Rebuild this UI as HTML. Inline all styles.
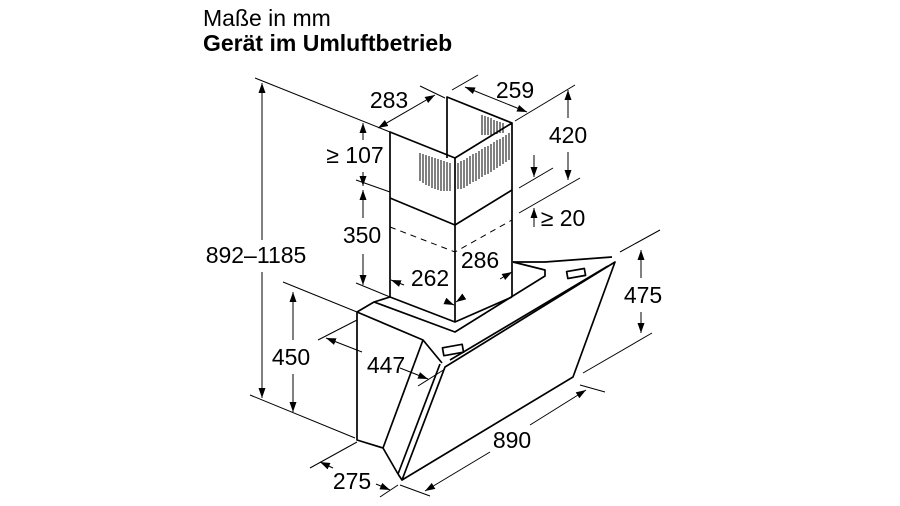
<!DOCTYPE html>
<html><head><meta charset="utf-8"><style>
html,body{margin:0;padding:0;background:#fff;}
svg{display:block;}
text{font-family:"Liberation Sans",Arial,sans-serif;fill:#000;}
</style></head><body>
<svg width="900" height="506" viewBox="0 0 900 506" xmlns="http://www.w3.org/2000/svg">
<defs>
<marker id="a" viewBox="0 0 10 10" refX="10" refY="5" markerWidth="10" markerHeight="10" orient="auto-start-reverse" markerUnits="userSpaceOnUse"><path d="M0,1.5 L10,5 L0,8.5z" fill="#000"/></marker>
</defs>
<text x="203" y="26" font-size="23">Maße in mm</text>
<text x="203" y="51" font-size="23" font-weight="bold">Gerät im Umluftbetrieb</text>

<g stroke="#000" fill="none" stroke-width="1.7" stroke-linejoin="round">
<polyline points="390,198 390,132 455,158 512,123 512,190"/>
<line x1="455" y1="158" x2="455" y2="322"/>
<polyline points="447,158 447,97 512,123"/>
<polyline points="390,198 455,225 512,190"/>
<line x1="390" y1="198" x2="390" y2="297"/>
<line x1="512" y1="190" x2="512" y2="297"/>
<polyline points="390,297 455,322 512,297" />
<polyline points="390,227 455,252 512,220" stroke-dasharray="6,5" stroke-width="1"/>
<polyline points="357,312 374,302 390,297"/>
<polyline points="374,302 455,332 545,276 545,270 513,262"/>
<polyline points="513,262 545,262 612,257"/>
<polyline points="357,312 357,440 383,448 398,474"/>
<polyline points="357,312 423,340 442,363"/>
<line x1="383" y1="448" x2="423" y2="340"/>
<polygon points="402,480 445,367 615,262 573,377"/>
<line x1="398" y1="474" x2="440" y2="364"/>
<line x1="398" y1="474" x2="402" y2="480"/>
<line x1="450" y1="360" x2="608" y2="266"/>
<rect x="443" y="346" width="20" height="8" transform="rotate(-10 453 350)"/>
<rect x="567" y="270" width="18" height="7" transform="rotate(-10 576 273)"/>
</g>
<g stroke="#000" stroke-width="1">
<path d="M420,153v28 M423,154v29 M426,155v30 M429,156v30 M432,157v31 M435,158v31 M438,159v31 M441,160v31 M444,161v30 M447,162v29 M450,163v28"/>
<path d="M458,163v26 M461,161v28 M464,160v28 M467,158v28 M470,156v28 M473,154v28 M476,153v28 M479,151v28 M482,149v28 M485,147v28 M488,146v28 M491,144v28 M494,142v28 M497,140v28 M500,139v27 M503,137v27 M506,135v27 M509,133v27"/>
<path d="M482,115v20 M485,116v19 M488,117v18 M491,118v17 M494,120v15 M497,121v13 M500,122v11 M503,123v10"/>
</g>

<g stroke="#000" stroke-width="1" fill="none">
<line x1="255" y1="78" x2="390" y2="132"/>
<line x1="250" y1="395" x2="355" y2="438"/>
<line x1="262" y1="83" x2="262" y2="240" marker-start="url(#a)"/>
<line x1="262" y1="272" x2="262" y2="398" marker-end="url(#a)"/>
<line x1="283" y1="282" x2="357" y2="312"/>
<line x1="293" y1="292" x2="293" y2="340" marker-start="url(#a)"/>
<line x1="293" y1="374" x2="293" y2="412" marker-end="url(#a)"/>
<line x1="378" y1="128" x2="435" y2="95" marker-start="url(#a)" marker-end="url(#a)"/>
<line x1="420" y1="86" x2="445" y2="98"/>
<line x1="452" y1="90" x2="478" y2="75"/>
<line x1="465" y1="87" x2="527" y2="112" marker-start="url(#a)" marker-end="url(#a)"/>
<line x1="515" y1="121" x2="575" y2="85"/>
<line x1="568" y1="90" x2="568" y2="118" marker-start="url(#a)"/>
<line x1="568" y1="152" x2="568" y2="180" marker-end="url(#a)"/>
<line x1="519" y1="188" x2="553" y2="168"/>
<line x1="519" y1="213" x2="580" y2="178"/>
<line x1="534" y1="155" x2="534" y2="177" marker-end="url(#a)"/>
<line x1="534" y1="227" x2="534" y2="208" marker-end="url(#a)"/>
<line x1="356" y1="180" x2="390" y2="192"/>
<line x1="356" y1="283" x2="390" y2="297"/>
<line x1="363" y1="123" x2="363" y2="140" marker-start="url(#a)"/>
<line x1="363" y1="172" x2="363" y2="186" marker-end="url(#a)"/>
<line x1="363" y1="190" x2="363" y2="218" marker-start="url(#a)"/>
<line x1="363" y1="254" x2="363" y2="285" marker-end="url(#a)"/>
<line x1="391" y1="280" x2="404" y2="285" marker-start="url(#a)"/>
<line x1="445" y1="301" x2="454" y2="305" marker-end="url(#a)"/>
<line x1="456" y1="302" x2="462" y2="298" marker-start="url(#a)"/>
<line x1="500" y1="279" x2="512" y2="272" marker-end="url(#a)"/>
<line x1="620" y1="252" x2="660" y2="230"/>
<line x1="583" y1="373" x2="652" y2="333"/>
<line x1="641" y1="250" x2="641" y2="278" marker-start="url(#a)"/>
<line x1="641" y1="312" x2="641" y2="333" marker-end="url(#a)"/>
<line x1="318" y1="340" x2="357" y2="320"/>
<line x1="418" y1="386" x2="445" y2="369"/>
<line x1="326" y1="338" x2="362" y2="352" marker-start="url(#a)"/>
<line x1="400" y1="368" x2="428" y2="379" marker-end="url(#a)"/>
<line x1="580" y1="385" x2="605" y2="392"/>
<line x1="400" y1="485" x2="430" y2="496"/>
<line x1="425" y1="491" x2="490" y2="452" marker-start="url(#a)"/>
<line x1="530" y1="425" x2="586" y2="390" marker-end="url(#a)"/>
<line x1="310" y1="468" x2="357" y2="442"/>
<line x1="380" y1="497" x2="398" y2="485"/>
<line x1="320" y1="462" x2="333" y2="468" marker-start="url(#a)"/>
<line x1="376" y1="484" x2="390" y2="490" marker-end="url(#a)"/>
</g>

<g font-size="23" text-anchor="middle">
<text x="389" y="108">283</text>
<text x="515" y="98">259</text>
<text x="568" y="143">420</text>
<text x="355" y="163">≥ 107</text>
<text x="362" y="243">350</text>
<text x="563" y="226">≥ 20</text>
<text x="256" y="263">892–1185</text>
<text x="430" y="286">262</text>
<text x="480" y="268">286</text>
<text x="643" y="303">475</text>
<text x="291" y="365">450</text>
<text x="386" y="373">447</text>
<text x="512" y="448">890</text>
<text x="352" y="489">275</text>
</g>
</svg>
</body></html>
